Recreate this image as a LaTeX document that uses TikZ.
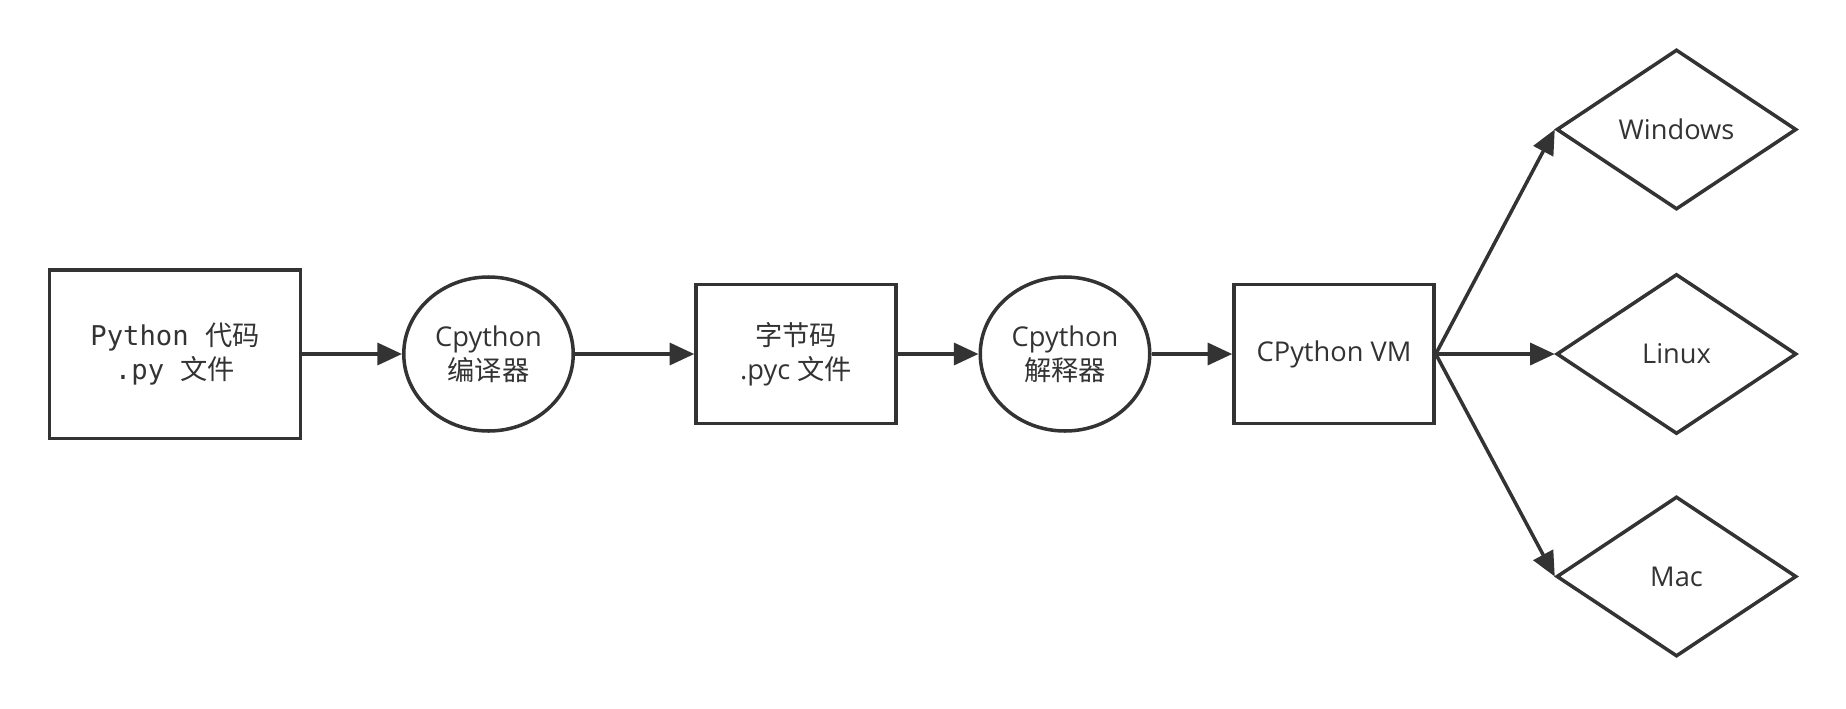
\documentclass[tikz,border=0pt]{standalone}
\usepackage{fontspec}
\setmainfont{Open Sans}
\newfontfamily\cjk{Noto Sans CJK SC}
\newfontfamily\codefont{DejaVu Sans Mono}
\usetikzlibrary{shapes.geometric,arrows.meta,positioning}
\definecolor{ink}{HTML}{333333}

\begin{document}
\begin{tikzpicture}[
    box/.style={draw=ink, rectangle, line width=2pt, inner sep=0pt, align=center, text=ink, font=\fontsize{15.5}{19.5}\selectfont},
    oval/.style={draw=ink, ellipse, line width=2pt, inner sep=0pt, minimum width=3.39cm, minimum height=3.08cm, align=center, text=ink, font=\fontsize{15.5}{19.5}\selectfont},
    platform/.style={draw=ink, diamond, line width=2pt, inner sep=0pt, minimum width=4.8cm, minimum height=3.2cm, text=ink, font=\fontsize{15.5}{19.5}\selectfont},
    edge/.style={-{Triangle[length=14pt, width=12.5pt]}, line width=2pt, draw=ink},
]

\useasboundingbox (0,-7.08) rectangle (36.92,7.08);

% Pipeline
\node[box, minimum width=5.02cm, minimum height=3.37cm] (source) at (3.50, 0) {{\codefont Python }{\cjk 代码}\\{\codefont .py }{\cjk 文件}};
\node[oval] (compiler) at (9.77, 0) {Cpython\\{\cjk 编译器}};
\node[box, minimum width=4.0cm, minimum height=2.78cm] (bytecode) at (15.92, 0) {{\cjk 字节码}\\.pyc {\cjk 文件}};
\node[oval] (interp) at (21.30, 0) {Cpython\\{\cjk 解释器}};
\node[box, minimum width=4.0cm, minimum height=2.78cm] (vm) at (26.68, 0) {CPython VM};

% Platforms
\node[platform] (windows) at (33.53, 4.49) {Windows};
\node[platform] (linux) at (33.53, 0) {Linux};
\node[platform] (mac) at (33.53, -4.45) {Mac};

\draw[edge] (source) -- (compiler);
\draw[edge] (compiler) -- (bytecode);
\draw[edge] (bytecode) -- (interp);
\draw[edge] (interp) -- (vm);
\draw[edge] (vm.east) -- (windows.west);
\draw[edge] (vm.east) -- (linux.west);
\draw[edge] (vm.east) -- (mac.west);

\end{tikzpicture}
\end{document}
